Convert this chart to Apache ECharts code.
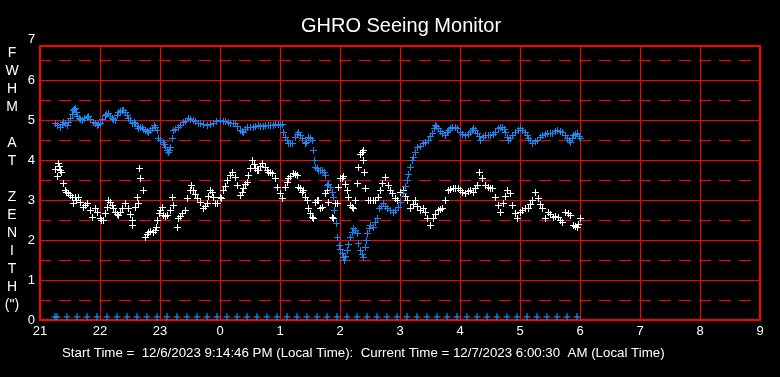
<!DOCTYPE html>
<html>
<head>
<meta charset="utf-8">
<title>GHRO Seeing Monitor</title>
<script src="https://cdn.jsdelivr.net/npm/echarts@6/dist/echarts.min.js"></script>
<style>
  html, body { margin: 0; padding: 0; background: #000; }
  #seeing { width: 780px; height: 377px; }
</style>
</head>
<body>
<div id="seeing"></div>
<script>
// x values are minutes after 21:00 local time, y values are FWHM in arcsec
const hourTicks = [21, 22, 23, 0, 1, 2, 3, 4, 5, 6, 7, 8, 9];

const whiteFwhm = [
  [15, 3.78], [17, 3.6], [18, 3.93], [19, 3.85], [20, 3.75], [21, 3.7], [23, 3.43], [25, 3.25], [26, 3.2],
  [28, 3.18], [30, 3.12], [32, 3.08], [33, 2.93], [35, 3.08], [36, 3.0], [38, 3.08], [40, 2.95], [43, 2.83],
  [45, 2.88], [47, 2.93], [50, 2.75], [52, 2.58], [55, 2.8], [57, 2.7], [60, 2.55], [61, 2.5], [63, 2.5],
  [65, 2.68], [67, 2.83], [68, 3.0], [70, 2.95], [72, 2.88], [73, 2.8], [75, 2.7], [77, 2.65], [78, 2.63],
  [80, 2.7], [82, 2.8], [85, 2.93], [88, 2.8], [90, 2.65], [92, 2.5], [92, 2.38], [95, 2.83], [97, 3.08],
  [98, 2.93], [99, 3.8], [100, 3.55], [103, 3.25], [105, 2.08], [107, 2.15], [108, 2.2], [110, 2.22],
  [113, 2.2], [115, 2.25], [116, 2.33], [117, 2.5], [119, 2.68], [120, 2.75], [122, 2.83], [123, 2.63],
  [125, 2.6], [127, 2.63], [130, 2.75], [132, 3.08], [133, 2.88], [137, 2.33], [138, 2.55], [140, 2.6],
  [142, 2.68], [145, 2.75], [147, 3.05], [150, 3.25], [151, 3.38], [153, 3.25], [155, 3.15], [157, 3.05],
  [160, 2.95], [163, 2.8], [165, 2.85], [167, 2.93], [168, 3.1], [170, 3.25], [172, 3.2], [173, 3.08],
  [175, 2.93], [177, 2.93], [180, 3.08], [181, 3.05], [183, 3.25], [185, 3.35], [187, 3.5], [190, 3.62],
  [192, 3.7], [195, 3.58], [197, 3.38], [200, 3.13], [202, 3.2], [203, 3.3], [205, 3.4], [207, 3.45],
  [208, 3.63], [210, 3.8], [212, 4.0], [214, 3.9], [215, 3.8], [217, 3.75], [218, 3.75], [220, 3.85],
  [222, 3.93], [225, 3.83], [227, 3.75], [228, 3.7], [230, 3.7], [232, 3.68], [235, 3.55], [237, 3.33],
  [240, 3.18], [242, 3.05], [245, 3.33], [247, 3.45], [248, 3.55], [250, 3.6], [253, 3.68], [255, 3.65],
  [257, 3.63], [258, 3.33], [260, 3.3], [262, 3.2], [263, 3.25], [265, 3.08], [267, 3.0], [268, 2.8],
  [270, 2.68], [272, 2.58], [273, 2.55], [275, 2.95], [277, 3.0], [278, 3.0], [280, 2.8], [282, 2.83],
  [285, 3.18], [287, 3.25], [288, 2.95], [292, 2.58], [293, 2.55], [295, 2.93], [297, 2.93], [298, 3.33],
  [300, 3.55], [302, 3.55], [303, 3.6], [305, 3.4], [307, 3.25], [308, 3.08], [310, 2.88], [312, 2.83],
  [313, 2.8], [315, 3.0], [317, 3.43], [318, 3.83], [320, 4.15], [322, 4.2], [323, 4.25], [323, 4.0],
  [324, 3.7], [325, 3.3], [328, 3.0], [330, 3.0], [333, 3.0], [335, 3.0], [338, 3.08], [340, 3.25],
  [342, 3.43], [345, 3.58], [348, 3.38], [350, 3.25], [352, 3.18], [355, 3.05], [357, 3.0], [360, 3.2],
  [363, 3.25], [365, 3.1], [367, 3.0], [370, 2.8], [373, 2.9], [375, 3.0], [377, 2.85], [380, 2.75],
  [383, 2.8], [385, 2.7], [387, 2.55], [390, 2.38], [393, 2.55], [395, 2.65], [398, 2.75], [400, 2.78],
  [402, 2.8], [405, 3.0], [408, 3.25], [410, 3.28], [413, 3.3], [415, 3.3], [418, 3.3], [420, 3.25],
  [422, 3.2], [425, 3.18], [428, 3.22], [430, 3.25], [433, 3.2], [435, 3.3], [437, 3.38], [439, 3.7],
  [442, 3.55], [445, 3.38], [448, 3.33], [450, 3.3], [452, 3.3], [455, 3.08], [458, 2.88], [460, 2.7],
  [463, 2.93], [465, 3.1], [467, 3.25], [470, 3.18], [472, 2.88], [475, 2.68], [477, 2.55], [480, 2.7],
  [482, 2.75], [485, 2.8], [488, 2.8], [490, 2.9], [492, 3.0], [495, 3.2], [498, 3.05], [500, 2.9],
  [502, 2.8], [505, 2.55], [508, 2.7], [510, 2.65], [513, 2.58], [515, 2.6], [518, 2.58], [520, 2.5],
  [522, 2.45], [525, 2.7], [528, 2.68], [530, 2.63], [533, 2.38], [535, 2.35], [537, 2.33], [538, 2.4],
  [540, 2.55]
];

const blueFwhm = [
  [15, 4.93], [17, 4.88], [20, 4.83], [22, 4.9], [23, 4.95], [25, 4.92], [27, 4.88], [28, 4.95], [30, 5.05],
  [32, 5.15], [33, 5.25], [34, 5.28], [35, 5.3], [36, 5.2], [37, 5.1], [39, 5.05], [40, 5.02], [42, 5.0],
  [44, 5.04], [47, 5.08], [48, 5.1], [50, 5.02], [53, 4.95], [55, 4.92], [57, 4.88], [58, 4.9], [60, 4.93],
  [62, 5.02], [65, 5.13], [66, 5.15], [68, 5.17], [70, 5.1], [72, 5.05], [73, 5.02], [75, 5.0], [77, 5.12],
  [78, 5.2], [80, 5.22], [82, 5.25], [83, 5.25], [85, 5.2], [87, 5.12], [88, 5.05], [90, 5.0], [92, 4.93],
  [94, 4.95], [95, 4.93], [97, 4.85], [98, 4.8], [100, 4.83], [102, 4.83], [103, 4.78], [105, 4.75],
  [107, 4.72], [108, 4.7], [110, 4.75], [112, 4.8], [114, 4.88], [115, 4.82], [117, 4.75], [118, 4.55],
  [120, 4.5], [123, 4.45], [124, 4.4], [125, 4.33], [127, 4.25], [128, 4.2], [129, 4.25], [130, 4.33],
  [132, 4.55], [133, 4.75], [135, 4.78], [138, 4.83], [140, 4.88], [143, 4.95], [145, 4.98], [148, 5.05],
  [150, 5.03], [153, 5.0], [155, 4.97], [158, 4.93], [160, 4.93], [163, 4.9], [167, 4.88], [170, 4.9],
  [173, 4.93], [176, 4.97], [180, 5.0], [183, 4.98], [185, 4.98], [188, 4.95], [190, 4.93], [193, 4.92],
  [195, 4.93], [197, 4.85], [200, 4.75], [202, 4.72], [203, 4.7], [205, 4.78], [207, 4.83], [210, 4.83],
  [213, 4.83], [215, 4.86], [218, 4.88], [220, 4.86], [223, 4.85], [225, 4.87], [228, 4.88], [230, 4.88],
  [233, 4.88], [235, 4.9], [238, 4.9], [240, 4.88], [242, 4.9], [243, 4.7], [245, 4.58], [247, 4.5],
  [248, 4.43], [250, 4.43], [252, 4.43], [255, 4.58], [257, 4.65], [258, 4.7], [260, 4.62], [262, 4.55],
  [265, 4.43], [266, 4.45], [268, 4.58], [270, 4.55], [272, 4.5], [273, 4.25], [274, 4.0], [275, 3.83],
  [277, 3.8], [278, 3.75], [280, 3.75], [282, 3.75], [284, 3.7], [285, 3.63], [287, 3.38], [288, 3.4],
  [290, 3.33], [292, 3.2], [293, 3.08], [294, 2.75], [296, 2.43], [297, 2.08], [299, 1.88], [300, 1.78],
  [302, 1.68], [303, 1.58], [304, 1.5], [305, 1.6], [307, 1.75], [308, 1.9], [310, 2.08], [312, 2.2],
  [313, 2.3], [315, 2.25], [317, 2.18], [318, 1.93], [320, 1.75], [322, 1.65], [323, 1.58], [325, 1.83],
  [326, 2.0], [327, 2.18], [329, 2.3], [330, 2.38], [333, 2.33], [335, 2.45], [337, 2.55], [339, 2.8],
  [341, 2.85], [343, 2.93], [345, 2.85], [347, 2.8], [350, 2.75], [353, 2.7], [355, 2.75], [358, 2.83],
  [360, 2.95], [363, 3.18], [365, 3.35], [367, 3.5], [368, 3.65], [370, 3.83], [372, 4.0], [373, 4.08],
  [375, 4.2], [377, 4.33], [380, 4.35], [383, 4.43], [385, 4.45], [388, 4.5], [390, 4.6], [392, 4.68],
  [394, 4.8], [395, 4.88], [396, 4.85], [398, 4.8], [400, 4.72], [402, 4.68], [405, 4.63], [407, 4.7],
  [408, 4.75], [410, 4.8], [412, 4.83], [415, 4.82], [417, 4.8], [420, 4.7], [422, 4.65], [425, 4.63],
  [428, 4.66], [430, 4.7], [432, 4.75], [433, 4.8], [435, 4.75], [437, 4.68], [439, 4.6], [440, 4.5],
  [443, 4.58], [445, 4.63], [448, 4.63], [450, 4.62], [453, 4.65], [455, 4.7], [458, 4.8], [460, 4.82],
  [462, 4.83], [464, 4.78], [465, 4.7], [467, 4.58], [468, 4.5], [470, 4.55], [472, 4.63], [475, 4.7],
  [478, 4.76], [480, 4.8], [482, 4.76], [485, 4.7], [487, 4.62], [488, 4.55], [490, 4.5], [492, 4.43],
  [495, 4.47], [497, 4.5], [500, 4.58], [502, 4.63], [505, 4.66], [507, 4.68], [510, 4.68], [512, 4.68],
  [515, 4.72], [517, 4.75], [520, 4.73], [522, 4.7], [525, 4.62], [527, 4.55], [529, 4.5], [530, 4.45],
  [532, 4.55], [533, 4.63], [535, 4.66], [537, 4.68], [539, 4.6], [540, 4.55]
];

// sample markers sitting on the floor of the plot
const sampleTimes = [
  15, 17, 27, 37, 47, 57, 67, 77, 87, 97, 107, 117, 127, 137, 147, 157, 167, 177, 187, 197, 207, 217,
  227, 237, 247, 257, 267, 277, 287, 297, 307, 317, 327, 337, 347, 357, 367, 377, 387, 397, 407, 417,
  427, 437, 447, 457, 467, 477, 487, 497, 507, 517, 527, 537
];
const sampleLevel = 0.08;

const RED = '#ff0000';
const BLUE = '#1c86f2';
const FONT = '"Liberation Sans", Arial, sans-serif';

// crisp 1px "+" marker, placed through the grid's own coordinate system
function plusMarker(color) {
  return function (params, api) {
    const p = api.coord([api.value(0), api.value(1)]);
    const x = Math.round(p[0]) + 0.5;
    const y = Math.round(p[1]) + 0.5;
    return {
      type: 'group',
      children: [
        { type: 'line', shape: { x1: x - 3.5, y1: y, x2: x + 3.5, y2: y }, style: { stroke: color, lineWidth: 1 } },
        { type: 'line', shape: { x1: x, y1: y - 3.5, x2: x, y2: y + 3.5 }, style: { stroke: color, lineWidth: 1 } },
      ],
    };
  };
}

const chart = echarts.init(document.getElementById('seeing'), null, { renderer: 'canvas' });

const option = {
  backgroundColor: '#000',
  animation: false,
  title: {
    text: 'GHRO Seeing Monitor',
    left: 396,
    top: 11,
    textAlign: 'center',
    textStyle: { color: '#fff', fontSize: 20, fontWeight: 'normal', fontFamily: FONT },
  },
  grid: {
    left: 40,
    right: 20,
    top: 46,
    bottom: 57,
    show: true,
    borderColor: RED,
    borderWidth: 2,
    backgroundColor: 'transparent',
  },
  xAxis: {
    type: 'value',
    min: 0,
    max: 720,
    interval: 60,
    axisLine: { show: true, lineStyle: { color: RED, width: 2 } },
    axisTick: { show: false },
    axisLabel: {
      color: '#fff',
      fontSize: 13,
      fontFamily: FONT,
      margin: 5,
      showMinLabel: true,
      showMaxLabel: true,
      formatter: (v) => String(hourTicks[Math.round(v / 60)]),
    },
    splitLine: { show: true, lineStyle: { color: RED, width: 1 } },
  },
  yAxis: [
    {
      type: 'value',
      min: 0,
      max: 6.85,
      interval: 1,
      position: 'left',
      axisLine: { show: false },
      axisTick: { show: false },
      axisLabel: {
        color: '#fff',
        fontSize: 13,
        fontFamily: FONT,
        margin: 5,
        formatter: (v) => (Number.isInteger(v) ? String(v) : ''),
      },
      splitLine: { show: true, lineStyle: { color: RED, width: 1 } },
    },
    {
      type: 'value',
      min: 0,
      max: 6.85,
      interval: 0.5,
      position: 'left',
      axisLine: { show: false },
      axisTick: { show: false },
      axisLabel: { show: false },
      splitLine: { show: true, lineStyle: { color: RED, width: 1, type: [12, 8], dashOffset: 1 } },
    },
  ],
  graphic: [
    {
      type: 'text',
      left: 28,
      top: 33,
      style: { text: '7', fill: '#fff', font: '13px ' + FONT },
    },
    {
      type: 'text',
      x: 12,
      y: 44,
      style: {
        text: 'F\nW\nH\nM\n\nA\nT\n\nZ\nE\nN\nI\nT\nH\n(")',
        fill: '#fff',
        font: '14px ' + FONT,
        lineHeight: 18,
        align: 'center',
      },
    },
    {
      type: 'text',
      x: 62,
      y: 347,
      style: {
        text: 'Start Time =  12/6/2023 9:14:46 PM (Local Time):  Current Time = 12/7/2023 6:00:30  AM (Local Time)',
        fill: '#fff',
        font: '13.3px ' + FONT,
      },
    },
  ],
  series: [
    {
      name: 'white',
      type: 'custom',
      renderItem: plusMarker('#ffffff'),
      encode: { x: 0, y: 1 },
      data: whiteFwhm,
      z: 3,
    },
    {
      name: 'blue',
      type: 'custom',
      renderItem: plusMarker(BLUE),
      encode: { x: 0, y: 1 },
      data: blueFwhm,
      z: 4,
    },
    {
      name: 'samples',
      type: 'scatter',
      symbol: 'path://M3,0h1.4v3h3v1.4h-3v3h-1.4v-3h-3v-1.4h3z',
      symbolSize: 7,
      itemStyle: { color: BLUE, opacity: 1 },
      data: sampleTimes.map((t) => [t, sampleLevel]),
      z: 5,
    },
  ],
};

chart.setOption(option);
</script>
</body>
</html>
